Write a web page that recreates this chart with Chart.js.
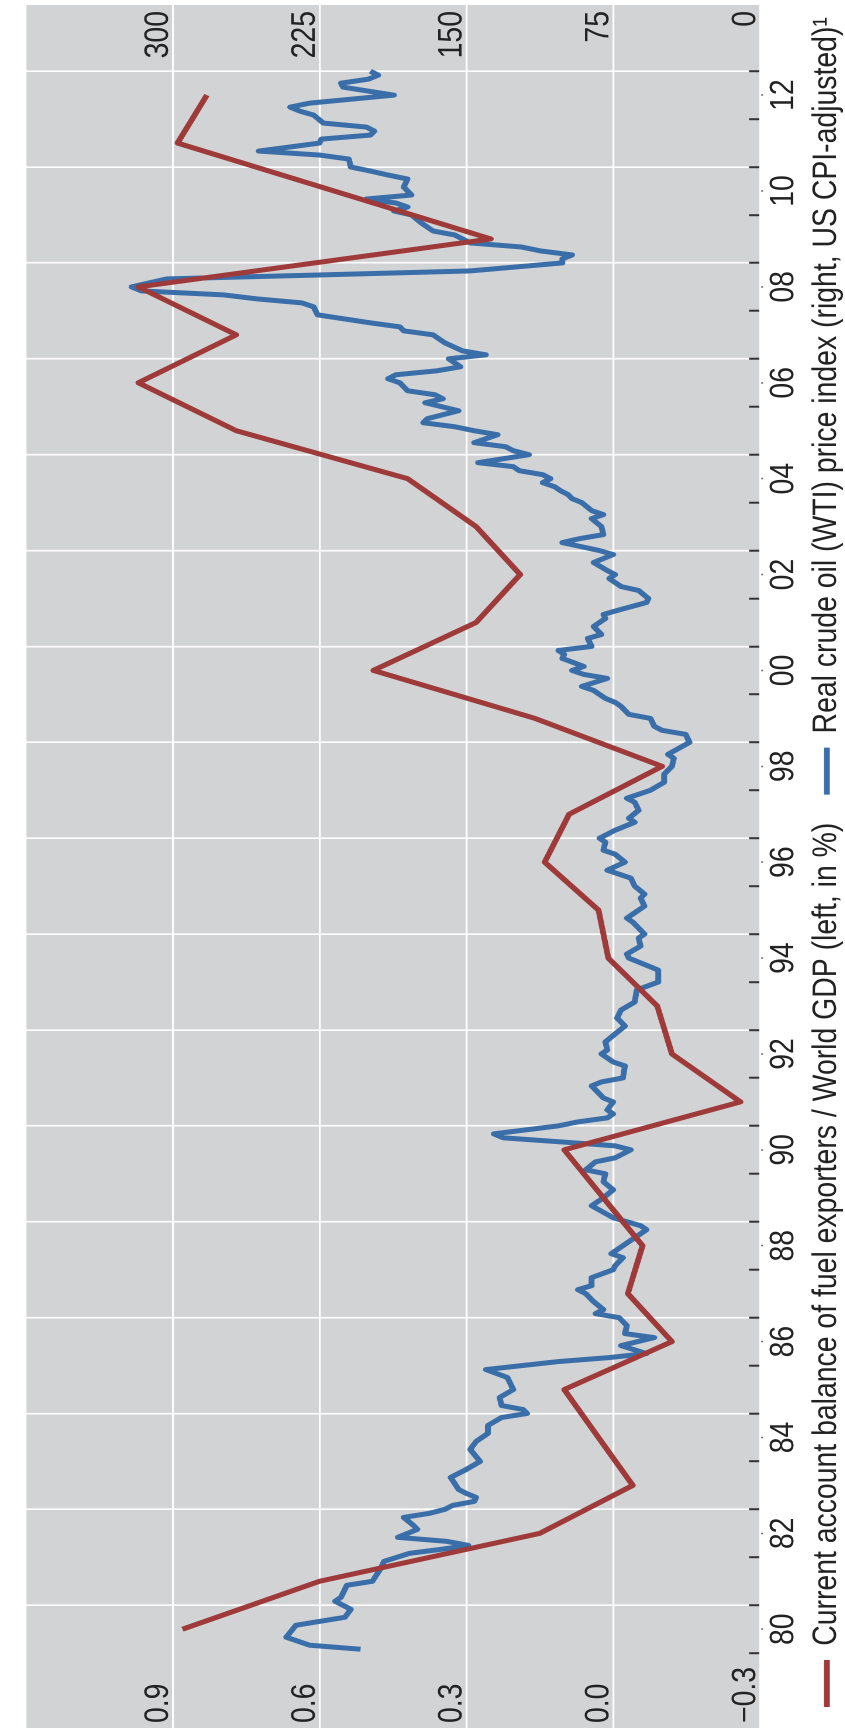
<!DOCTYPE html>
<html lang="en">
<head>
<meta charset="utf-8">
<title>Fuel exporters' current account and real oil price</title>
<script src="https://cdn.jsdelivr.net/npm/chart.js@4.4.1/dist/chart.umd.min.js"></script>
<style>
  html, body { margin: 0; padding: 0; background: #ffffff; overflow: hidden; }
  body { width: 845px; height: 1735px; position: relative; }
  /* the chart is laid out landscape, then turned a quarter turn so the time axis runs upwards */
  #frame { position: absolute; left: 0; top: 0; width: 1795px; height: 731px;
           transform-origin: 0 0;
           transform: translateY(1735px) rotate(-90deg) scaleY(1.17); }
  #frame canvas { display: block; }
</style>
</head>
<body>
<div id="frame"><canvas id="chart" width="1795" height="731"></canvas></div>
<script>
// Current account balance of fuel exporters / World GDP, annual, % (left axis)
const years = [1980, 1981, 1982, 1983, 1984, 1985, 1986, 1987, 1988, 1989,
               1990, 1991, 1992, 1993, 1994, 1995, 1996, 1997, 1998, 1999,
               2000, 2001, 2002, 2003, 2004, 2005, 2006, 2007, 2008, 2009,
               2010, 2011, 2012];
const caBalance = [0.88, 0.60, 0.15, -0.04, 0.03, 0.10, -0.12, -0.03, -0.06, 0.02,
                   0.10, -0.26, -0.12, -0.09, 0.01, 0.03, 0.14, 0.09, -0.10, 0.16,
                   0.49, 0.28, 0.19, 0.28, 0.42, 0.77, 0.97, 0.77, 0.97, 0.25,
                   0.57, 0.89, 0.83];

// Real crude oil (WTI) price index, US CPI-adjusted (right axis); months counted from Jan 1980
const oilMonth = [1, 2, 3, 4, 7, 9, 11, 13, 14, 17, 18, 21, 23, 25, 26, 27, 28, 29, 31, 32,
  34, 35, 36, 37, 38, 39, 40, 41, 44, 46, 48, 51, 53, 55, 57, 59, 60, 61, 62, 64,
  66, 69, 71, 73, 74, 75, 77, 79, 80, 82, 84, 85, 86, 88, 90, 91, 92, 94, 96, 97,
  99, 100, 103, 106, 107, 109, 112, 114, 116, 118, 120, 121, 123, 124, 126, 127, 128, 129, 130, 132,
  133, 134, 135, 136, 138, 139, 142, 143, 144, 147, 148, 150, 151, 153, 155, 157, 159, 161, 163, 166,
  168, 171, 174, 175, 177, 179, 180, 182, 183, 184, 187, 189, 190, 192, 194, 196, 198, 200, 201, 203,
  204, 206, 207, 208, 209, 211, 213, 214, 216, 218, 220, 222, 224, 225, 228, 230, 231, 232, 234, 235,
  237, 238, 239, 241, 242, 244, 245, 246, 247, 249, 250, 251, 252, 254, 255, 257, 259, 260, 261, 263,
  264, 266, 267, 269, 270, 271, 273, 275, 276, 278, 279, 280, 282, 284, 285, 286, 288, 289, 290, 291,
  292, 293, 294, 295, 296, 297, 298, 300, 301, 302, 303, 305, 306, 307, 308, 309, 311, 313, 314, 315,
  316, 318, 319, 320, 321, 322, 324, 325, 326, 328, 330, 331, 332, 333, 335, 337, 338, 339, 340, 341,
  342, 344, 345, 346, 348, 349, 350, 351, 352, 353, 355, 356, 358, 360, 361, 362, 363, 364, 365, 367,
  369, 370, 371, 372, 374, 375, 376, 378, 379, 380, 381, 382, 383, 385, 386, 387, 388, 390, 392, 393,
  394, 395, 396];
const oilIndex = [204, 230, 236, 242, 237, 212, 209, 217, 214, 211, 198, 194, 192, 179, 163, 149, 160, 185, 175, 177,
  182, 169, 161, 157, 146, 145, 150, 154, 158, 150, 143, 148, 145, 139, 139, 132, 119, 121, 132, 133,
  126, 129, 140, 103, 77, 58, 71, 54, 69, 68, 72, 84, 80, 85, 89, 93, 86, 86, 75, 74,
  70, 76, 67, 58, 61, 75, 86, 80, 75, 80, 79, 89, 84, 74, 66, 74, 102, 131, 136, 103,
  93, 78, 75, 78, 75, 80, 86, 81, 70, 69, 75, 81, 78, 79, 74, 69, 73, 71, 64, 63,
  52, 52, 67, 68, 61, 62, 59, 63, 65, 68, 59, 61, 59, 64, 66, 78, 69, 74, 80, 79,
  82, 74, 69, 64, 67, 62, 64, 68, 56, 49, 49, 45, 44, 47, 36, 38, 50, 54, 56, 67,
  71, 74, 79, 85, 91, 78, 90, 96, 90, 101, 100, 103, 86, 88, 81, 85, 79, 80, 73, 58,
  57, 62, 71, 77, 74, 78, 85, 75, 82, 101, 92, 80, 81, 86, 80, 86, 91, 96, 98, 102,
  105, 111, 107, 111, 123, 126, 144, 118, 126, 130, 146, 134, 146, 156, 172, 170, 154, 171, 162, 166,
  180, 184, 190, 186, 165, 153, 159, 140, 152, 161, 167, 182, 184, 199, 226, 228, 234, 257, 274, 316,
  321, 303, 224, 148, 101, 101, 96, 112, 122, 148, 156, 167, 173, 178, 187, 180, 186, 201, 178, 182,
  180, 190, 199, 209, 210, 225, 256, 225, 224, 199, 197, 201, 223, 228, 235, 240, 230, 187, 213, 214,
  200, 195, 199];

// Axis ticks and labels
const labelYears = [1980, 1982, 1984, 1986, 1988, 1990, 1992, 1994, 1996,
                    1998, 2000, 2002, 2004, 2006, 2008, 2010, 2012];
const yearLabels = ['80', '82', '84', '86', '88', '90', '92', '94', '96',
                    '98', '00', '02', '04', '06', '08', '10', '12'];
const leftTicks = [-0.3, 0.0, 0.3, 0.6, 0.9, 1.2];
const leftTickLabels = ['\u22120.3', '0.0', '0.3', '0.6', '0.9', ''];
const rightTicks = [0, 75, 150, 225, 300];
const rightTickLabels = ['0', '75', '150', '225', '300'];
const seriesNames = [
  'Current account balance of fuel exporters / World GDP (left, in %)',
  'Real crude oil (WTI) price index (right, US CPI-adjusted)\u00b9'
];

// Layout helpers: the frame is stretched vertically by STRETCH after drawing
const STRETCH = 1.17;
const v = px => px / STRETCH;
const CANVAS_W = 1795;
const PLOT_RIGHT = 1730;
const X_MIN = 1978.44, X_MAX = 2014.38;
const FONT = 28.4;
const INK = '#222222';
const LINE_W = 5;

// a tick mark at the start of every year; white grid lines at odd years
const tickYears = [];
for (let yr = 1980; yr <= 2013; yr++) tickYears.push(yr);

Chart.defaults.font.family = "'Liberation Sans', Arial, Helvetica, sans-serif";
Chart.defaults.font.size = FONT;
Chart.defaults.color = INK;

const plotBackground = {
  id: 'plotBackground',
  beforeDraw(chart) {
    const {ctx, chartArea: a} = chart;
    ctx.save();
    ctx.fillStyle = '#ffffff';
    ctx.fillRect(0, 0, chart.width, chart.height);
    ctx.fillStyle = '#d2d3d5';
    ctx.fillRect(a.left, a.top, a.right - a.left, a.bottom - a.top);
    ctx.restore();
  }
};

new Chart(document.getElementById('chart'), {
  type: 'line',
  data: {
    datasets: [
      {
        label: seriesNames[0],
        data: years.map((yr, i) => ({x: yr + 0.5, y: caBalance[i]})),
        xAxisID: 'x', yAxisID: 'y',
        borderColor: '#9e3a3a', backgroundColor: '#9e3a3a',
        borderWidth: LINE_W, pointRadius: 0, tension: 0,
        borderJoinStyle: 'round', fill: false
      },
      {
        label: seriesNames[1],
        data: oilMonth.map((m, i) => ({x: 1980 + m / 12, y: oilIndex[i]})),
        xAxisID: 'x', yAxisID: 'y1',
        borderColor: '#3a6ea9', backgroundColor: '#3a6ea9',
        borderWidth: LINE_W, pointRadius: 0, tension: 0,
        borderJoinStyle: 'round', fill: false
      }
    ]
  },
  options: {
    responsive: false,
    animation: false,
    devicePixelRatio: 2,
    layout: { padding: { top: v(6), left: 0, right: 0, bottom: 0 } },
    plugins: {
      tooltip: { enabled: false },
      legend: {
        position: 'bottom',
        align: 'start',
        labels: {
          usePointStyle: true,
          pointStyle: 'line',
          pointStyleWidth: 47,
          boxHeight: FONT,
          padding: 28,
          color: INK,
          font: { size: FONT }
        }
      }
    },
    scales: {
      x: {
        type: 'linear', position: 'bottom', min: X_MIN, max: X_MAX, weight: 0,
        afterBuildTicks: s => { s.ticks = tickYears.map(val => ({value: val})); },
        afterFit: s => { s.height = 0; },
        grid: {
          color: c => (c.tick && Math.round(c.tick.value) % 2 === 1) ? '#ffffff' : 'rgba(0,0,0,0)',
          lineWidth: 1.6,
          drawTicks: true,
          tickLength: -v(11),
          tickColor: '#333333',
          tickWidth: 2
        },
        border: { display: false },
        ticks: { display: false }
      },
      xl: {
        type: 'linear', position: 'bottom', min: X_MIN, max: X_MAX, weight: 1,
        afterBuildTicks: s => { s.ticks = labelYears.map(yr => ({value: yr + 0.5})); },
        afterFit: s => { s.height = 15.0; },
        grid: { drawOnChartArea: false, drawTicks: true, tickLength: v(3), tickColor: '#666666', tickWidth: 1.5 },
        border: { display: false },
        ticks: {
          mirror: true, autoSkip: false, maxRotation: 0, minRotation: 0, padding: -37.6,
          color: INK, font: { size: FONT },
          callback: (val, i) => yearLabels[i]
        }
      },
      y: {
        type: 'linear', position: 'left', min: -0.3, max: 1.2,
        afterBuildTicks: s => { s.ticks = leftTicks.map(val => ({value: val})); },
        afterFit: s => { s.width = 7; },
        grid: { color: '#ffffff', lineWidth: 1.6, drawTicks: false },
        border: { display: false },
        ticks: {
          mirror: true, padding: 5, labelOffset: -12,
          color: INK, font: { size: FONT },
          callback: (val, i) => leftTickLabels[i]
        }
      },
      y1: {
        type: 'linear', position: 'right', min: 0, max: 375,
        afterBuildTicks: s => { s.ticks = rightTicks.map(val => ({value: val})); },
        afterFit: s => { s.width = CANVAS_W - PLOT_RIGHT; },
        grid: { drawOnChartArea: false, drawTicks: false },
        border: { display: false },
        ticks: {
          mirror: true, padding: -6, labelOffset: -12,
          color: INK, font: { size: FONT },
          callback: (val, i) => rightTickLabels[i]
        }
      }
    }
  },
  plugins: [plotBackground]
});
</script>
</body>
</html>
